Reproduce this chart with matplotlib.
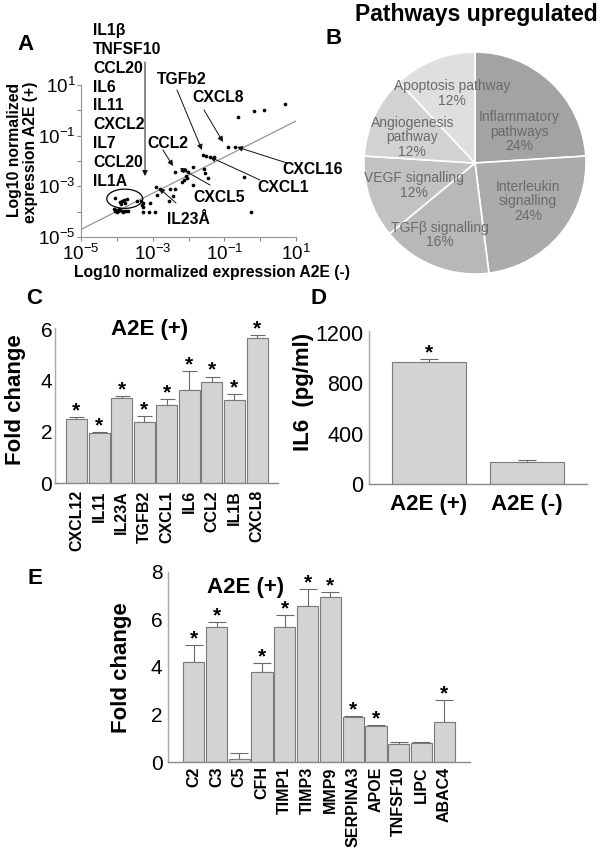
import numpy as np
import matplotlib
matplotlib.use("Agg")
import matplotlib.pyplot as plt

W, H = 604, 864
plt.rcParams['font.family'] = ['Liberation Sans', 'DejaVu Sans']
plt.rcParams['mathtext.fontset'] = 'custom'
plt.rcParams['mathtext.rm'] = 'Liberation Sans'
plt.rcParams['mathtext.it'] = 'Liberation Sans:italic'
plt.rcParams['mathtext.bf'] = 'Liberation Sans:bold'
plt.rcParams['axes.unicode_minus'] = False

# ---------------- Panel A data (log10 normalized expression) ----------------
a_log_neg = [0.69, 0.11, -0.17, -0.62, -0.90, -0.70, -1.60, -1.51, -1.40, -1.29,
             -0.45, -0.26, -1.57, -1.54, -1.46, -1.87, -2.18, -2.10, -2.01, -2.07,
             -2.13, -2.38, -1.87, -2.38, -2.91, -2.80, -2.52, -2.43, -2.88, -2.54,
             -3.07, -3.44, -3.33, -3.27, -3.30, -3.27, -3.27, -3.10, -2.93, -4.05,
             -3.91, -3.86, -3.80, -3.72, -3.77, -3.88, -4.08, -4.02, -3.97, -3.91,
             -3.86, -3.80, -3.74, -3.69, -4.05, -3.94, -4.00, -3.83, -2.04, -2.18]
a_log_pos = [0.25, 0.01, -0.03, -0.26, -1.45, -1.45, -1.76, -1.80, -1.84, -1.84,
             -2.63, -4.01, -2.32, -2.47, -2.67, -2.24, -2.36, -2.36, -2.43, -2.59,
             -2.75, -2.43, -2.95, -3.11, -3.03, -3.11, -3.11, -3.38, -3.34, -3.58,
             -3.66, -3.58, -3.58, -3.66, -3.74, -3.82, -4.01, -4.01, -4.01, -3.46,
             -3.62, -3.58, -3.54, -3.50, -3.66, -3.70, -3.90, -3.93, -3.97, -3.93,
             -3.97, -3.97, -3.97, -3.97, -3.97, -3.90, -4.01, -4.01, -2.67, -2.83]
fit_slope, fit_intercept = 0.713, -1.135
a_ticks = [-5, -4, -3, -2, -1, 0, 1]
a_list_genes = ["IL1β", "TNFSF10", "CCL20", "IL6", "IL11", "CXCL2", "IL7", "CCL20", "IL1A"]
a_called = ["TGFb2", "CXCL8", "CCL2", "CXCL16", "CXCL1", "CXCL5", "IL23Å"]

# ---------------- Panel B data ----------------
b_labels = ["Inflammatory\npathways", "Interleukin\nsignalling", "TGFβ signalling",
            "VEGF signalling", "Angiogenesis\npathway", "Apoptosis pathway"]
b_pct = [24, 24, 16, 12, 12, 12]
b_colors = ["#a3a3a3", "#ababab", "#b8b8b8", "#c2c2c2", "#d2d2d2", "#dfdfdf"]

# ---------------- Panel C data ----------------
c_genes = ["CXCL12", "IL11", "IL23A", "TGFB2", "CXCL1", "IL6", "CCL2", "IL1B", "CXCL8"]
c_vals = [2.49, 1.95, 3.34, 2.40, 3.05, 3.64, 3.95, 3.25, 5.68]
c_errs = [0.08, 0.06, 0.07, 0.22, 0.22, 0.74, 0.21, 0.22, 0.09]
c_sig = [True, True, True, True, True, True, True, True, True]

# ---------------- Panel D data ----------------
d_groups = ["A2E (+)", "A2E (-)"]
d_vals = [970, 177]
d_errs = [21, 10]
d_sig = [True, False]

# ---------------- Panel E data ----------------
e_genes = ["C2", "C3", "C5", "CFH", "TIMP1", "TIMP3", "MMP9", "SERPINA3", "APOE",
           "TNFSF10", "LIPC", "ABAC4"]
e_vals = [4.22, 5.66, 0.14, 3.78, 5.66, 6.57, 6.92, 1.90, 1.52, 0.77, 0.81, 1.71]
e_errs = [0.70, 0.21, 0.27, 0.37, 0.51, 0.69, 0.24, 0.04, 0.06, 0.07, 0.04, 0.89]
e_sig = [True, True, False, True, True, True, True, True, True, False, False, True]

fig = plt.figure(figsize=(W / 100, H / 100), dpi=100)


def px_axes(l, t, r, b):
    return fig.add_axes([l / W, 1 - b / H, (r - l) / W, (b - t) / H])


def ftext(x, y, s, **kw):
    return fig.text(x / W, 1 - y / H, s, **kw)


def fp(x, y):
    return (x, H - y)


# ================= Panel A =================
axA = px_axes(81, 85, 296, 237)
axA.set_xscale('log')
axA.set_yscale('log')
axA.set_xlim(1e-5, 1e1)
axA.set_ylim(1e-5, 1e1)
xs = 10.0 ** np.array(a_log_neg)
ys = 10.0 ** np.array(a_log_pos)
axA.scatter(xs, ys, s=7, color='black', linewidths=0, zorder=3, clip_on=False)
lx = np.array([-5.0, 1.0])
axA.plot(10 ** lx, 10 ** (fit_intercept + fit_slope * lx), color='#8a8a8a', lw=0.8, zorder=2)
t = np.linspace(0, 2 * np.pi, 200)
axA.plot(10 ** (-3.78 + 0.50 * np.cos(t)), 10 ** (-3.49 + 0.38 * np.sin(t)),
         color='black', lw=0.9, zorder=4)
tick_vals = [10.0 ** k for k in a_ticks]
tick_labs = [r'$\mathdefault{10^{%d}}$' % k if k % 2 else '' for k in a_ticks]
axA.set_xticks(tick_vals)
axA.set_xticklabels(tick_labs)
axA.set_yticks(tick_vals)
axA.set_yticklabels(tick_labs)
axA.minorticks_off()
axA.tick_params(axis='both', labelsize=13.5, length=3, width=0.8, color='#888888', direction='out')
axA.tick_params(axis='x', pad=2)
axA.tick_params(axis='y', pad=1)
for sp in ['top', 'right']:
    axA.spines[sp].set_visible(False)
for sp in ['left', 'bottom']:
    axA.spines[sp].set_color('#999999')
    axA.spines[sp].set_linewidth(0.9)
ftext(212, 273, "Log10 normalized expression A2E (-)", ha='center', va='center',
      fontsize=11.3, fontweight='bold')
ftext(15, 150, "Log10 normalized", ha='center', va='center', rotation=90,
      fontsize=11.3, fontweight='bold')
ftext(31, 152, "expression A2E (+)", ha='center', va='center', rotation=90,
      fontsize=11.3, fontweight='bold')
ftext(26, 45, "A", ha='center', va='center', fontsize=16, fontweight='bold')

for i, g in enumerate(a_list_genes):
    ftext(93, 31 + i * 18.75, g, ha='left', va='center', fontsize=11.3, fontweight='bold')

arrow_kw = dict(arrowstyle='-|>', color='#111111', lw=0.7, mutation_scale=8,
                shrinkA=0, shrinkB=0)
axA.annotate('', xy=fp(145, 176), xycoords='figure pixels', xytext=fp(145, 62),
             textcoords='figure pixels', arrowprops=arrow_kw, annotation_clip=False)

called_layout = [  # text x, text y, ha, arrow tail, arrow head
    (182, 79, 'center', (177, 90), (202, 150)),
    (218, 98, 'center', (204, 110), (223, 142)),
    (168, 143, 'center', (163, 150), (173, 166)),
    (282, 170, 'left', (287, 163), (237, 147)),
    (283, 187, 'center', (260, 180), (210, 157)),
    (219, 197, 'center', (210, 185), (180, 168)),
    (188, 220, 'center', (176, 203), (159, 188)),
]
for g, (tx, ty, ha, tail, head) in zip(a_called, called_layout):
    ftext(tx, ty, g, ha=ha, va='center', fontsize=11.3, fontweight='bold')
    axA.annotate('', xy=fp(*head), xycoords='figure pixels', xytext=fp(*tail),
                 textcoords='figure pixels', arrowprops=arrow_kw, annotation_clip=False)

# ================= Panel B =================
axB = px_axes(364, 52, 586, 274)
wedges, _ = axB.pie(b_pct, colors=b_colors, startangle=90, counterclock=False,
                    wedgeprops=dict(edgecolor='white', linewidth=1.2))
axB.set_xlim(-1, 1)
axB.set_ylim(-1, 1)
lab_pos = [(35, 0.49), (-36, 0.59), (-116, 0.72), (-160, 0.59), (157.6, 0.61), (108, 0.66)]
for lab, p, (ang, r) in zip(b_labels, b_pct, lab_pos):
    a = np.deg2rad(ang)
    axB.text(r * np.cos(a), r * np.sin(a), f"{lab}\n{p}%", ha='center', va='center',
             fontsize=10, color='#6a6a6a', linespacing=1.05)
ftext(476, 15, "Pathways upregulated", ha='center', va='center', fontsize=16.5,
      fontweight='bold')
ftext(334, 38, "B", ha='center', va='center', fontsize=16, fontweight='bold')


# ================= bar helper =================
def bar_panel(ax, labels, vals, errs, sig, width, capsize, label_size, rot, xpad,
              star_size=15):
    n = len(vals)
    x = np.arange(n)
    ax.bar(x, vals, width, color='#d3d3d3', edgecolor='#7a7a7a', linewidth=0.8, zorder=2)
    ax.errorbar(x, vals, yerr=[np.zeros(n), errs], fmt='none', ecolor='#6a6a6a',
                elinewidth=0.8, capsize=capsize, capthick=0.8, zorder=1)
    for xi, v, e, s in zip(x, vals, errs, sig):
        if s:
            ax.annotate('*', xy=(xi, v + e), xytext=(0, 0.5), textcoords='offset points',
                        ha='center', va='baseline', fontsize=star_size, fontweight='bold')
    for sp in ['top', 'right']:
        ax.spines[sp].set_visible(False)
    ax.spines['left'].set_color('#a8a8a8')
    ax.spines['bottom'].set_color('#8a8a8a')
    ax.spines['left'].set_linewidth(1.0)
    ax.spines['bottom'].set_linewidth(1.0)
    ax.tick_params(axis='x', length=0, pad=xpad)
    ax.tick_params(axis='y', length=0)
    ax.set_xticks(x)
    ax.set_xticklabels(labels, fontsize=label_size, rotation=rot)
    for tl in ax.get_xticklabels():
        tl.set_fontweight('bold')


# ================= Panel C =================
c_top = 483.3 - 6.05 * (154 / 6)
axC = px_axes(55, c_top, 278, 483.3)
axC.set_ylim(0, 6.05)
axC.tick_params(axis='y', labelsize=15, pad=2)
bar_panel(axC, c_genes, c_vals, c_errs, c_sig, 0.93, 5.4, 11.5, 90, 5)
axC.set_xlim(-0.95, 8.93)
axC.set_ylim(0, 6.05)
axC.set_yticks([0, 2, 4, 6])
ftext(150, 330, "A2E (+)", ha='center', va='center', fontsize=16, fontweight='bold')
ftext(16, 400, "Fold change", ha='center', va='center', rotation=90, fontsize=16,
      fontweight='bold')
ftext(34, 298, "C", ha='center', va='center', fontsize=16, fontweight='bold')

# ================= Panel D =================
d_scale = 151.3 / 1200
axD = px_axes(369, 484 - 1210 * d_scale, 587, 484)
axD.tick_params(axis='y', labelsize=15.5, pad=4)
bar_panel(axD, d_groups, d_vals, d_errs, d_sig, 0.755, 6.5, 16, 0, 7)
axD.set_xlim(-0.61, 1.61)
axD.set_ylim(0, 1210)
axD.set_yticks([0, 400, 800, 1200])
ftext(303, 392, "IL6  (pg/ml)", ha='center', va='center', rotation=90, fontsize=16,
      fontweight='bold')
ftext(318, 298, "D", ha='center', va='center', fontsize=16, fontweight='bold')

# ================= Panel E =================
axE = px_axes(168, 571.7, 470, 762.3)
axE.tick_params(axis='y', labelsize=15, pad=4)
bar_panel(axE, e_genes, e_vals, e_errs, e_sig, 0.93, 6.5, 11.5, 90, 3)
axE.set_xlim(-1.13, 12.13)
axE.set_ylim(0, 8)
axE.set_yticks([0, 2, 4, 6, 8])
ftext(246, 587, "A2E (+)", ha='center', va='center', fontsize=16, fontweight='bold')
ftext(122, 668, "Fold change", ha='center', va='center', rotation=90, fontsize=16,
      fontweight='bold')
ftext(35, 578, "E", ha='center', va='center', fontsize=16, fontweight='bold')

fig.savefig("out.png", dpi=100)
